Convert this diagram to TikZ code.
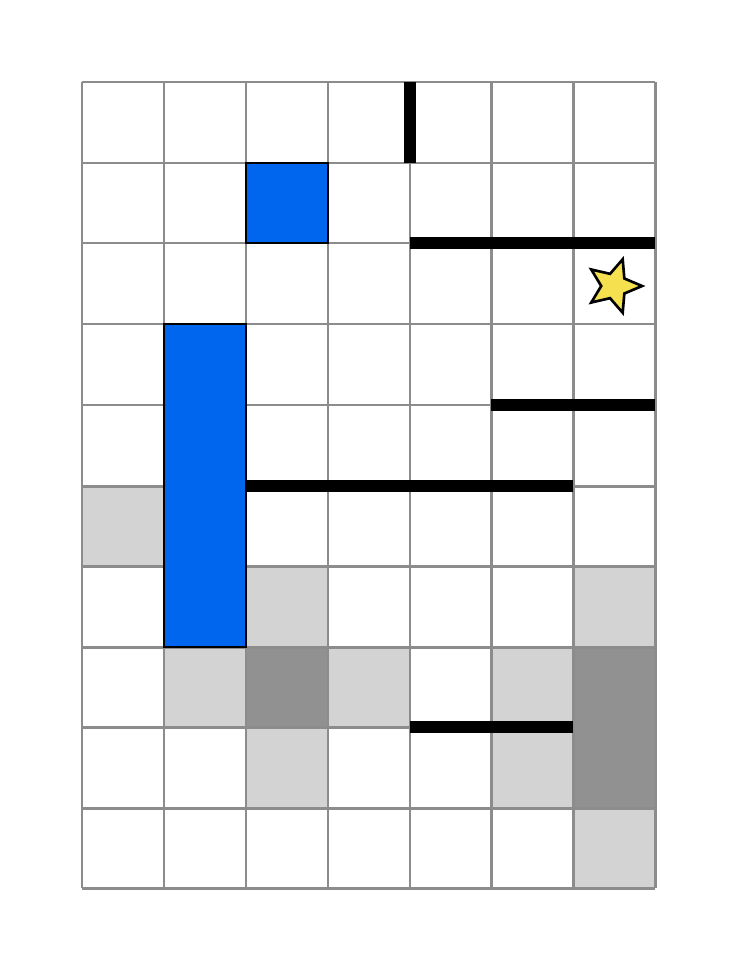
\documentclass[tikz,border=0pt]{standalone}
\usetikzlibrary{shapes.geometric}
\definecolor{gridgray}{RGB}{140,140,140}
\definecolor{lightcell}{RGB}{211,211,211}
\definecolor{darkcell}{RGB}{145,145,145}
\definecolor{blockblue}{RGB}{0,102,238}
\definecolor{staryellow}{RGB}{245,224,80}
\tikzset{
  lightfill/.style={fill=lightcell},
  darkfill/.style={fill=darkcell},
  gridline/.style={draw=gridgray,line width=1.7pt},
  block/.style={fill=blockblue,draw=black,line width=1.2pt},
  wall/.style={draw=black,line width=6.8pt},
  goal/.style={star,star points=5,star point ratio=2.2,minimum size=32pt,inner sep=0pt,
    shape border rotate=-90,fill=staryellow,draw=black,line width=1.5pt}
}
\begin{document}
\begin{tikzpicture}[x=0.02cm,y=-0.02cm]
\useasboundingbox (0,0) rectangle (736,970);
\fill[white] (0,0) rectangle (736,970);
% light gray cells
\fill[lightfill] (82,486) rectangle (164,566);
\fill[lightfill] (246,566) rectangle (328,647);
\fill[lightfill] (573,566) rectangle (655,647);
\fill[lightfill] (164,647) rectangle (246,727);
\fill[lightfill] (328,647) rectangle (410,727);
\fill[lightfill] (491,647) rectangle (573,727);
\fill[lightfill] (246,727) rectangle (328,808);
\fill[lightfill] (491,727) rectangle (573,808);
\fill[lightfill] (573,808) rectangle (655,888);
% dark gray cells
\fill[darkfill] (246,647) rectangle (328,727);
% grid
\foreach \x in {82,164,246,328,410,491,573,655}
  \draw[gridline] (\x,82) -- (\x,888);
\foreach \y in {82,163,243,324,405,486,566,647,727,808,888}
  \draw[gridline] (82,\y) -- (655,\y);
% merged dark block
\fill[darkfill] (574.5,648.5) rectangle (653.5,806.5);
% blue blocks
\draw[block] (246,163) rectangle (328,243);
\draw[block] (164,324) rectangle (246,647);
% walls
\coordinate (w1a) at (410,82);  \coordinate (w1b) at (410,163);
\coordinate (w2a) at (410,243); \coordinate (w2b) at (655,243);
\coordinate (w3a) at (491,405); \coordinate (w3b) at (655,405);
\coordinate (w4a) at (246,486); \coordinate (w4b) at (573,486);
\coordinate (w5a) at (410,727); \coordinate (w5b) at (573,727);
\draw[wall] (w1a) -- (w1b);
\draw[wall] (w2a) -- (w2b);
\draw[wall] (w3a) -- (w3b);
\draw[wall] (w4a) -- (w4b);
\draw[wall] (w5a) -- (w5b);
% star
\node[goal] (goalstar) at (614,286) {};
\end{tikzpicture}
\end{document}
